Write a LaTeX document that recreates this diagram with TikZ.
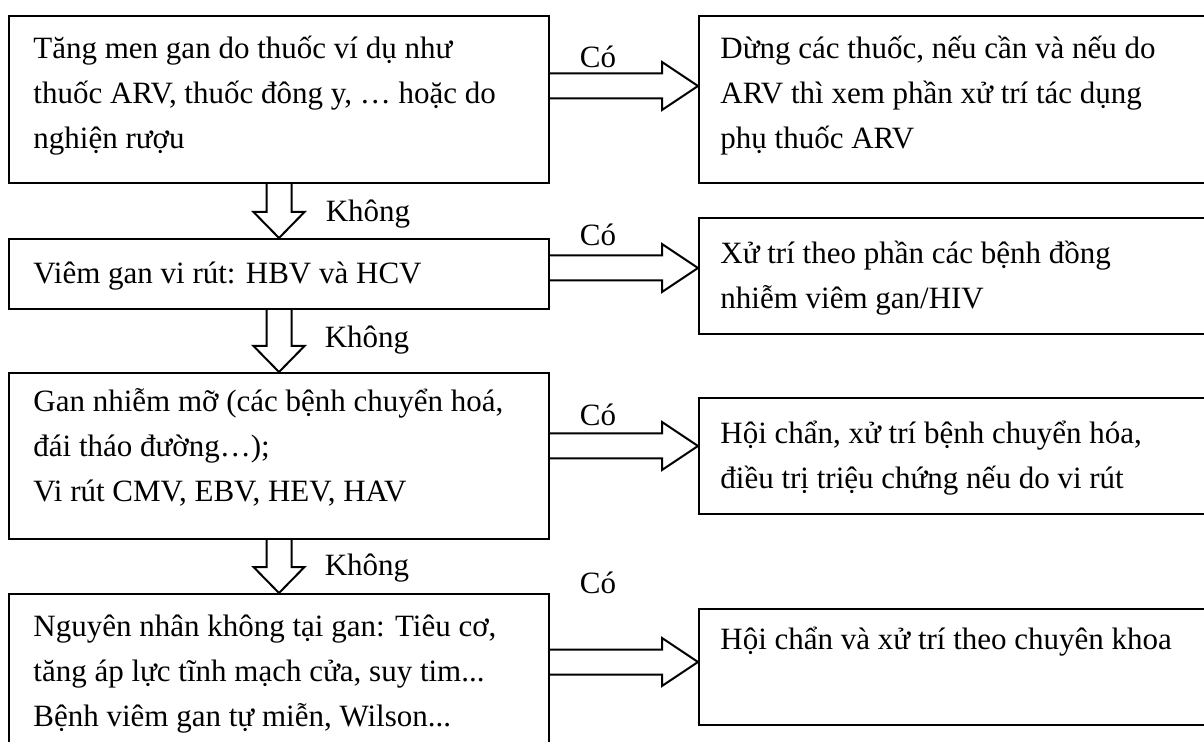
\documentclass[tikz,border=0pt]{standalone}
\usepackage{fontspec}
\setmainfont{Liberation Serif}
\usetikzlibrary{calc}
\begin{document}
\begin{tikzpicture}[x=0.5pt,y=-0.5pt,
  box/.style={draw, line width=1pt, anchor=north west, inner sep=0pt, minimum width=#1},
  box/.default=270pt,
  txt/.style={anchor=north west, inner sep=0pt, align=left, font=\fontsize{15.5}{22.5}\selectfont},
  lbl/.style={inner sep=0pt, font=\fontsize{15.5}{22.5}\selectfont},
  blk/.style={draw, line width=1pt, line join=miter}]
\clip (0,0) rectangle (1204,742);
\newcommand\rarrow[2]{\draw[blk] ($(#1)+(0,-12.5)$) -- ($(#2)+(-36,-12.5)$) -- ($(#2)+(-36,-24)$) -- (#2) -- ($(#2)+(-36,24)$) -- ($(#2)+(-36,12.5)$) -- ($(#1)+(0,12.5)$);}
\newcommand\darrow[2]{\draw[blk] ($(#1)+(-12.5,0)$) -- ($(#2)+(-12.5,-26)$) -- ($(#2)+(-25.5,-26)$) -- (#2) -- ($(#2)+(25.5,-26)$) -- ($(#2)+(12.5,-26)$) -- ($(#1)+(12.5,0)$);}

% left boxes
\node[box, minimum height=83.5pt] (b1) at (8,15) {};
\node[box, minimum height=35pt] (b2) at (8,238) {};
\node[box, minimum height=83pt] (b3) at (8,372) {};
\node[box, minimum height=83.5pt] (b4) at (8,593) {};
% right boxes
\node[box=258.5pt, minimum height=83.5pt] (r1) at (698,15) {};
\node[box=258.5pt, minimum height=58pt] (r2) at (698,217) {};
\node[box=258.5pt, minimum height=58pt] (r3) at (698,397) {};
\node[box=258.5pt, minimum height=58pt] (r4) at (698,608) {};

% texts
\node[txt] (tb1) at (33,26.5) {\strut Tăng men gan do thuốc ví dụ như\\thuốc ARV, thuốc đông y, … hoặc do\\nghiện rượu};
\node[txt] (tb2) at (33,251.5) {\strut Viêm gan vi rút: HBV và HCV};
\node[txt] (tb3) at (33,379.5) {\strut Gan nhiễm mỡ (các bệnh chuyển hoá,\\đái tháo đường…);\\Vi rút CMV, EBV, HEV, HAV};
\node[txt] (tb4) at (33,604.5) {\strut Nguyên nhân không tại gan: Tiêu cơ,\\tăng áp lực tĩnh mạch cửa, suy tim...\\Bệnh viêm gan tự miễn, Wilson...};
\node[txt] (tr1) at (720,26.5) {\strut Dừng các thuốc, nếu cần và nếu do\\ARV thì xem phần xử trí tác dụng\\phụ thuốc ARV};
\node[txt] (tr2) at (720,231.5) {\strut Xử trí theo phần các bệnh đồng\\nhiễm viêm gan/HIV};
\node[txt] (tr3) at (720,411.5) {\strut Hội chẩn, xử trí bệnh chuyển hóa,\\điều trị triệu chứng nếu do vi rút};
\node[txt] (tr4) at (720,617.5) {\strut Hội chẩn và xử trí theo chuyên khoa};

% horizontal arrows
\coordinate (s1) at (b1.east |- 0,86);  \coordinate (t1) at (r1.west |- 0,86);
\coordinate (s2) at (b2.east |- 0,268); \coordinate (t2) at (r2.west |- 0,268);
\coordinate (s3) at (b3.east |- 0,446); \coordinate (t3) at (r3.west |- 0,446);
\coordinate (s4) at (b4.east |- 0,662); \coordinate (t4) at (r4.west |- 0,662);
\rarrow{s1}{t1}
\rarrow{s2}{t2}
\rarrow{s3}{t3}
\rarrow{s4}{t4}
\node[lbl] (c1) at (598,57) {Có};
\node[lbl] (c2) at (598,235) {Có};
\node[lbl] (c3) at (598,415) {Có};
\node[lbl] (c4) at (598,583) {Có};

% vertical arrows
\coordinate (u1) at (b1.south -| 279,0); \coordinate (v1) at (b2.north -| 279,0);
\coordinate (u2) at (b2.south -| 279,0); \coordinate (v2) at (b3.north -| 279,0);
\coordinate (u3) at (b3.south -| 279,0); \coordinate (v3) at (b4.north -| 279,0);
\darrow{u1}{v1}
\darrow{u2}{v2}
\darrow{u3}{v3}
\node[lbl] (k1) at (368,214) {Không};
\node[lbl] (k2) at (367,340) {Không};
\node[lbl] (k3) at (367,568) {Không};
\end{tikzpicture}
\end{document}
